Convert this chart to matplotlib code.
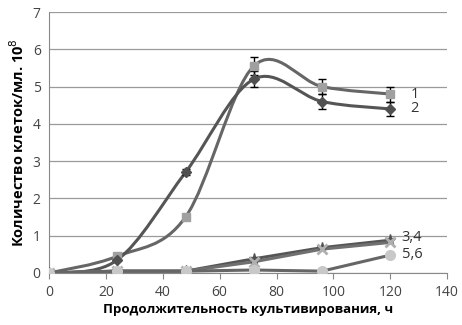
import numpy as np
import matplotlib
matplotlib.use("Agg")
import matplotlib.pyplot as plt
from matplotlib.path import Path
from matplotlib.patches import PathPatch

hours = [0, 24, 48, 72, 96, 120]
s1 = [0.0, 0.45, 1.5, 5.55, 5.0, 4.8]
s1_err = [0, 0, 0, 0.25, 0.2, 0.2]
s2 = [0.0, 0.35, 2.7, 5.2, 4.6, 4.4]
s2_err = [0, 0, 0.08, 0.22, 0.2, 0.2]
s3 = [0.0, 0.05, 0.05, 0.38, 0.68, 0.88]
s4 = [0.0, 0.05, 0.05, 0.3, 0.64, 0.82]
s5 = [0.0, 0.05, 0.05, 0.08, 0.05, 0.48]
labels = ["1", "2", "3,4", "5,6"]
label_x = [127, 127, 124, 124]
label_y = [4.8, 4.4, 0.95, 0.5]

plt.rcParams['font.family'] = ['Open Sans', 'DejaVu Sans']
fig = plt.figure(figsize=(4.62, 3.25), dpi=100)
ax = fig.add_axes([0.106, 0.16, 0.862, 0.803])

def smooth_path(x, y):
    pts = np.column_stack([x, y]).astype(float)
    verts = [pts[0]]
    codes = [Path.MOVETO]
    n = len(pts)
    for i in range(n - 1):
        p0 = pts[i - 1] if i > 0 else pts[i]
        p1 = pts[i]
        p2 = pts[i + 1]
        p3 = pts[i + 2] if i + 2 < n else pts[i + 1]
        c1 = p1 + (p2 - p0) / 6.0
        c2 = p2 - (p3 - p1) / 6.0
        verts += [c1, c2, p2]
        codes += [Path.CURVE4] * 3
    return Path(verts, codes)

def draw(x, y, color, lw=2.2, smooth=True):
    if smooth:
        ax.add_patch(PathPatch(smooth_path(x, y), fc='none', ec=color, lw=lw, zorder=3))
    else:
        ax.plot(x, y, color=color, lw=lw, zorder=3)

dark = '#555555'
mid = '#666666'

draw(hours, s1, mid)
draw(hours, s2, dark)
draw(hours, s3, dark, smooth=False)
draw(hours, s4, '#707070', smooth=False)
draw(hours, s5, mid, smooth=False)

ax.errorbar(hours[2:], s1[2:], yerr=s1_err[2:], fmt='none', ecolor='black', elinewidth=1, capsize=3, zorder=4)
ax.errorbar(hours[2:], s2[2:], yerr=s2_err[2:], fmt='none', ecolor='black', elinewidth=1, capsize=3, zorder=4)

ax.plot(hours, s1, ls='none', marker='s', ms=5.5, color='#a0a0a0', zorder=5)
ax.plot(hours, s2, ls='none', marker='D', ms=5, color='#505050', zorder=5)
ax.plot(hours, s3, ls='none', marker='*', ms=8, color='#505050', zorder=5)
ax.plot(hours, s4, ls='none', marker='x', ms=7, mew=2, color='#b0b0b0', zorder=5)
ax.plot(hours, s5, ls='none', marker='o', ms=7, color='#c8c8c8', zorder=6)

for lab, xx, yy in zip(labels, label_x, label_y):
    ax.text(xx, yy, lab, fontsize=10.5, color='#333333', va='center', ha='left')

ax.set_xlim(0, 140)
ax.set_ylim(0, 7)
ax.set_xticks(range(0, 141, 20))
ax.set_yticks(range(0, 8))
ax.yaxis.grid(True, color='#9a9a9a', lw=0.9)
ax.set_axisbelow(True)
for s in ['top', 'right']:
    ax.spines[s].set_visible(False)
ax.spines['left'].set_color('#888888')
ax.spines['bottom'].set_color('#888888')
ax.tick_params(axis='y', length=0, labelsize=10, labelcolor='#444444', pad=6)
ax.tick_params(axis='x', length=4, direction='out', color='#888888', labelsize=10, labelcolor='#444444', pad=5)
ax.set_xlabel('Продолжительность культивирования, ч', fontsize=9.5, fontweight='bold', labelpad=2)
ax.set_ylabel('Количество клеток/мл. 10$^8$', fontsize=10.5, fontweight='bold', labelpad=4)

fig.savefig('out.png', dpi=100)
